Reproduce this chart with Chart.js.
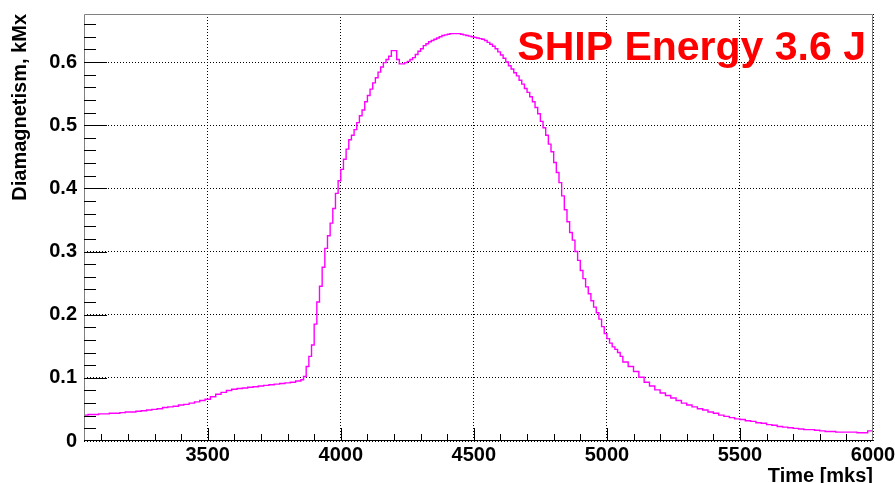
<!DOCTYPE html>
<html>
<head>
<meta charset="utf-8">
<title>SHIP Energy 3.6 J</title>
<script src="https://cdn.jsdelivr.net/npm/chart.js@4.4.1/dist/chart.umd.min.js"></script>
<style>
  html, body { margin: 0; padding: 0; background: #ffffff; }
  #wrap { position: relative; width: 895px; height: 483px; }
</style>
</head>
<body>
<div id="wrap"><canvas id="diaCanvas"></canvas></div>
<script>
// bin start time [mks] and diamagnetic signal [kMx]
const binStart = [
  3030, 3050, 3070, 3090, 3110, 3130, 3150, 3170, 3190, 3210,
  3230, 3250, 3270, 3290, 3310, 3330, 3350, 3370, 3390, 3410,
  3430, 3450, 3470, 3490, 3510, 3530, 3550, 3570, 3590, 3610,
  3630, 3650, 3670, 3690, 3710, 3730, 3750, 3770, 3790, 3810,
  3830, 3850,
  3860, 3870, 3880, 3890, 3900, 3910, 3920, 3930, 3940, 3950,
  3960, 3970, 3980, 3990, 4000, 4010, 4020, 4030, 4040, 4050,
  4060, 4070, 4080, 4090, 4100, 4110, 4120, 4130, 4140, 4150,
  4160, 4170, 4180, 4190, 4200, 4210, 4220, 4230, 4240, 4250,
  4260, 4270, 4280, 4290, 4300, 4310, 4320, 4330, 4340, 4350,
  4360, 4370, 4380, 4390, 4400, 4410, 4420, 4430, 4440, 4450,
  4460, 4470, 4480, 4490, 4500, 4510, 4520, 4530, 4540, 4550,
  4560, 4570, 4580, 4590, 4600, 4610, 4620, 4630, 4640, 4650,
  4660, 4670, 4680, 4690, 4700, 4710, 4720, 4730, 4740, 4750,
  4760, 4770, 4780, 4790, 4800, 4810, 4820, 4830, 4840, 4850,
  4860, 4870, 4880, 4890, 4900, 4910, 4920, 4930, 4940, 4950,
  4960, 4970, 4980, 4990, 5000, 5010, 5020, 5030, 5040, 5050,
  5060, 5080, 5100, 5120, 5140, 5160, 5180, 5200, 5220, 5240,
  5260, 5280, 5300, 5320, 5340, 5360, 5380, 5400, 5420, 5440,
  5460, 5480, 5500, 5520, 5540, 5560, 5580, 5600, 5620, 5640,
  5660, 5680, 5700, 5720, 5740, 5760, 5780, 5800, 5820, 5840,
  5860, 5880, 5900, 5920, 5940, 5960, 5980, 5990, 6000
];
const diamag = [
  0.041, 0.041, 0.042, 0.042, 0.043, 0.043, 0.044, 0.044, 0.045, 0.046,
  0.046, 0.047, 0.048, 0.049, 0.050, 0.051, 0.053, 0.054, 0.055, 0.057,
  0.058, 0.060, 0.062, 0.064, 0.066, 0.070, 0.074, 0.077, 0.080, 0.082,
  0.083, 0.084, 0.085, 0.086, 0.087, 0.088, 0.089, 0.090, 0.091, 0.092,
  0.093, 0.095,
  0.097, 0.102, 0.118, 0.134, 0.152, 0.185, 0.220, 0.245, 0.275, 0.305,
  0.325, 0.345, 0.368, 0.392, 0.412, 0.430, 0.446, 0.462, 0.477, 0.484,
  0.493, 0.504, 0.515, 0.524, 0.537, 0.547, 0.557, 0.567, 0.575, 0.584,
  0.592, 0.599, 0.604, 0.609, 0.618, 0.618, 0.604, 0.597, 0.597, 0.599,
  0.601, 0.604, 0.607, 0.612, 0.617, 0.621, 0.626, 0.629, 0.632, 0.634,
  0.636, 0.638, 0.640, 0.642, 0.643, 0.644, 0.645, 0.645, 0.645, 0.645,
  0.644, 0.643, 0.642, 0.641, 0.640, 0.639, 0.638, 0.637, 0.636, 0.634,
  0.631, 0.628, 0.625, 0.621, 0.616, 0.611, 0.606, 0.600, 0.594, 0.589,
  0.583, 0.578, 0.571, 0.565, 0.558, 0.552, 0.545, 0.537, 0.528, 0.518,
  0.506, 0.496, 0.484, 0.470, 0.458, 0.441, 0.425, 0.409, 0.388, 0.366,
  0.347, 0.330, 0.318, 0.300, 0.286, 0.270, 0.257, 0.244, 0.233, 0.222,
  0.212, 0.203, 0.193, 0.181, 0.170, 0.162, 0.155, 0.149, 0.145, 0.140,
  0.134, 0.125, 0.118, 0.110, 0.101, 0.093, 0.087, 0.081, 0.076, 0.072,
  0.068, 0.064, 0.060, 0.057, 0.054, 0.051, 0.049, 0.046, 0.044, 0.041,
  0.039, 0.037, 0.035, 0.034, 0.032, 0.031, 0.029, 0.028, 0.026, 0.025,
  0.023, 0.022, 0.021, 0.020, 0.019, 0.018, 0.018, 0.017, 0.016, 0.015,
  0.015, 0.014, 0.014, 0.014, 0.014, 0.013, 0.013, 0.016, 0.016
];
const xTicks = [3500, 4000, 4500, 5000, 5500, 6000];
const yTicks = [0, 0.1, 0.2, 0.3, 0.4, 0.5, 0.6];
const titleText = 'SHIP Energy 3.6 J';

const FONT = "'Liberation Sans', Arial, Helvetica, sans-serif";

// ROOT-like frame: inner tick marks, grey frame, red label
const rootFrame = {
  id: 'rootFrame',
  afterDraw(chart) {
    const { ctx, chartArea: a, scales } = chart;
    const xs = scales.x, ys = scales.y;
    ctx.save();
    // frame (top / right / left grey, bottom black)
    ctx.lineWidth = 1;
    ctx.strokeStyle = '#808080';
    ctx.beginPath();
    ctx.moveTo(a.left + 0.5, a.bottom);
    ctx.lineTo(a.left + 0.5, a.top + 0.5);
    ctx.lineTo(a.right - 0.5, a.top + 0.5);
    ctx.lineTo(a.right - 0.5, a.bottom);
    ctx.stroke();
    ctx.strokeStyle = '#000000';
    ctx.beginPath();
    ctx.moveTo(a.left, a.bottom - 0.5);
    ctx.lineTo(a.right, a.bottom - 0.5);
    ctx.stroke();

    // x ticks: major every 500, minor every 100
    ctx.beginPath();
    for (let t = 3100; t <= 6000; t += 100) {
      const px = Math.round(xs.getPixelForValue(t)) + 0.5;
      if (px < a.left || px > a.right) continue;
      const len = (t % 500 === 0) ? 13 : 7;
      ctx.moveTo(px, a.bottom);
      ctx.lineTo(px, a.bottom - len);
    }
    // y ticks: major every 0.1, minor every 0.02
    for (let i = 0; i <= 33; i++) {
      const v = i * 0.02;
      const py = Math.round(ys.getPixelForValue(v)) + 0.5;
      if (py < a.top || py > a.bottom) continue;
      const len = (i % 5 === 0) ? 23 : 12;
      ctx.moveTo(a.left, py);
      ctx.lineTo(a.left + len, py);
    }
    ctx.stroke();

    // red energy label
    ctx.font = 'bold 41px ' + FONT;
    ctx.fillStyle = '#ff0000';
    ctx.textAlign = 'right';
    ctx.textBaseline = 'alphabetic';
    ctx.fillText(titleText, 866, 60);
    ctx.restore();
  }
};

const points = binStart.map((t, i) => ({ x: t, y: diamag[i] }));

const canvas = document.getElementById('diaCanvas');
canvas.width = 895;
canvas.height = 483;

new Chart(canvas.getContext('2d'), {
  type: 'line',
  data: {
    datasets: [{
      label: 'Diamagnetism',
      data: points,
      stepped: 'after',
      borderColor: '#ff00ff',
      borderWidth: 1.4,
      pointRadius: 0,
      fill: false,
    }],
  },
  options: {
    responsive: false,
    animation: false,
    events: [],
    layout: { padding: { left: 0, top: 14, right: 22, bottom: 0 } },
    plugins: { legend: { display: false }, tooltip: { enabled: false } },
    scales: {
      x: {
        type: 'linear',
        min: 3035,
        max: 6000,
        afterBuildTicks: (scale) => { scale.ticks = xTicks.map((v) => ({ value: v })); },
        afterFit: (scale) => { scale.height = 42; scale.paddingLeft = 0; scale.paddingRight = 0; },
        ticks: {
          color: '#000',
          padding: 2,
          maxRotation: 0,
          font: { family: FONT, size: 20, weight: 'bold' },
          callback: (v) => String(v),
        },
        grid: { color: '#000', lineWidth: 1, drawTicks: false },
        border: { display: false, dash: [1, 2] },
        title: {
          display: true,
          text: 'Time [mks]',
          align: 'end',
          color: '#000',
          padding: 0,
          font: { family: FONT, size: 20, weight: 'bold', lineHeight: 0.7 },
        },
      },
      y: {
        type: 'linear',
        min: 0,
        max: 0.676,
        afterBuildTicks: (scale) => { scale.ticks = yTicks.map((v) => ({ value: v })); },
        afterFit: (scale) => { scale.width = 84; scale.paddingTop = 0; scale.paddingBottom = 0; },
        ticks: {
          color: '#000',
          padding: 7,
          font: { family: FONT, size: 20, weight: 'bold' },
          callback: (v) => String(Math.round(v * 10) / 10),
        },
        grid: { color: '#000', lineWidth: 1, drawTicks: false },
        border: { display: false, dash: [1, 2] },
        title: {
          display: true,
          text: 'Diamagnetism, kMx',
          align: 'end',
          color: '#000',
          padding: { top: 10, bottom: 0 },
          font: { family: FONT, size: 20, weight: 'bold', lineHeight: 1 },
        },
      },
    },
  },
  plugins: [rootFrame],
});
</script>
</body>
</html>
